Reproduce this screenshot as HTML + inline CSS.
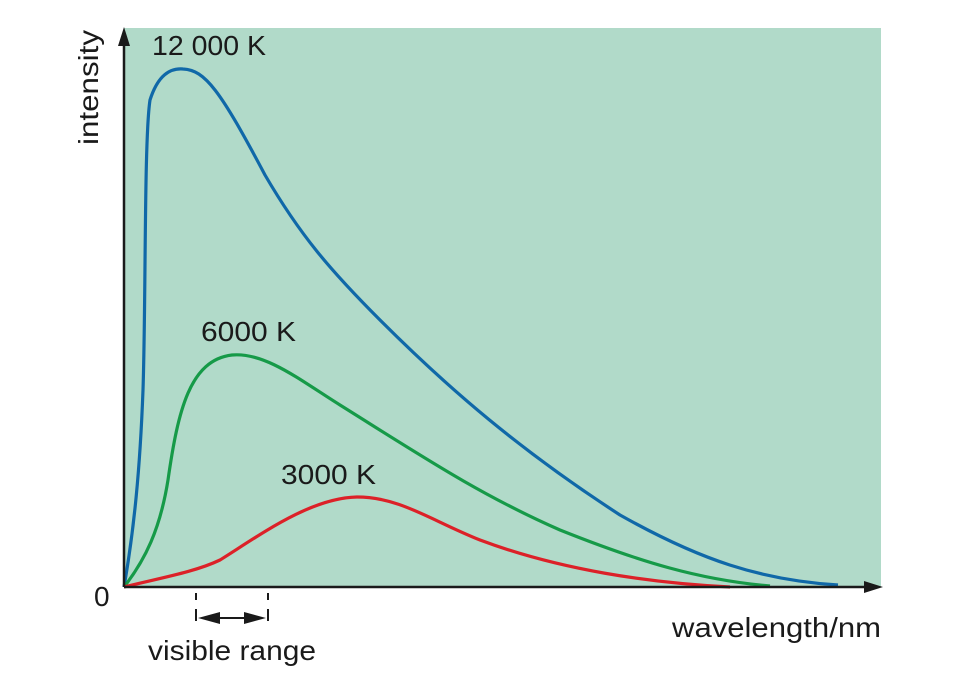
<!DOCTYPE html>
<html><head><style>body{margin:0;background:#fff}svg{display:block}text{font-family:"Liberation Sans",sans-serif;fill:#1a1a1a}</style></head><body>
<svg width="965" height="674" viewBox="0 0 965 674">
<rect x="124" y="28" width="757" height="559" fill="#b1dac9"/>
<path d="M124,587 C134,530 140,470 143,390 C146,300 144,140 150,100 C158,75 170,68 183,69 C205,70 220,90 265,175 C300,235 330,270 380,320 C450,390 520,450 620,515 C700,560 760,580 838,585" fill="none" stroke="#1068a8" stroke-width="3.2"/>
<path d="M124,587 C145,560 160,530 168,480 C178,410 190,360 232,355 C265,352 300,380 340,405 C420,455 480,495 560,530 C640,562 700,580 770,586" fill="none" stroke="#169a48" stroke-width="3.2"/>
<path d="M124,587 C160,578 195,572 220,560 C260,535 310,498 357,497 C400,497 430,520 480,540 C560,570 650,583 730,587" fill="none" stroke="#dc2128" stroke-width="3.2"/>
<line x1="124" y1="587" x2="874" y2="587" stroke="#1a1a1a" stroke-width="2.5"/>
<line x1="124" y1="587" x2="124" y2="40" stroke="#1a1a1a" stroke-width="2.5"/>
<path d="M124,27 L118,46 L130,46 Z M883,587 L864,581 L864,593 Z" fill="#1a1a1a"/>
<g stroke="#1a1a1a" stroke-width="2"><line x1="196" y1="593" x2="196" y2="600"/><line x1="196" y1="609" x2="196" y2="621"/><line x1="268" y1="593" x2="268" y2="600"/><line x1="268" y1="609" x2="268" y2="621"/><line x1="205" y1="618" x2="260" y2="618"/></g>
<path d="M198,618 L220,612 L220,624 Z M266,618 L244,612 L244,624 Z" fill="#1a1a1a"/>
<text x="152" y="55" font-size="28" textLength="114" lengthAdjust="spacingAndGlyphs">12 000 K</text>
<text x="201" y="341" font-size="28" textLength="95" lengthAdjust="spacingAndGlyphs">6000 K</text>
<text x="281" y="484" font-size="28" textLength="95" lengthAdjust="spacingAndGlyphs">3000 K</text>
<text x="94" y="606" font-size="28">0</text>
<text x="672" y="637" font-size="28" textLength="209" lengthAdjust="spacingAndGlyphs">wavelength/nm</text>
<text x="148" y="660" font-size="28" textLength="168" lengthAdjust="spacingAndGlyphs">visible range</text>
<text transform="translate(98,145) rotate(-90)" font-size="28" textLength="115" lengthAdjust="spacingAndGlyphs">intensity</text>
</svg>
</body></html>
